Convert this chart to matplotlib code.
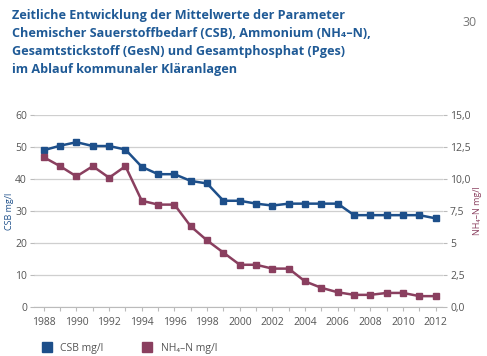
import matplotlib.pyplot as plt
from matplotlib.lines import Line2D

years = list(range(1988, 2013))
csb = [49.0, 50.4, 51.5, 50.3, 50.3, 49.2, 43.8, 41.5, 41.5, 39.4, 38.6, 33.2, 33.2,
       32.3, 31.7, 32.3, 32.3, 32.3, 32.3, 28.7, 28.7, 28.7, 28.7, 28.7, 27.7]
nh4 = [11.7, 11.0, 10.2, 11.0, 10.1, 11.0, 8.3, 8.0, 8.0, 6.3, 5.2, 4.25, 3.3,
       3.3, 3.0, 3.0, 2.0, 1.5, 1.15, 0.95, 0.95, 1.1, 1.1, 0.85, 0.85]
right_ticks = [0, 2.5, 5, 7.5, 10, 12.5, 15]
right_labels = ['0,0', '2,5', '5', '7,5', '10,0', '12,5', '15,0']

title = ("Zeitliche Entwicklung der Mittelwerte der Parameter\n"
         "Chemischer Sauerstoffbedarf (CSB), Ammonium (NH\u2084–N),\n"
         "Gesamtstickstoff (GesN) und Gesamtphosphat (Pges)\n"
         "im Ablauf kommunaler Kläranlagen")

blue = '#1d4f8a'
red = '#8a3f5f'
grey = '#555555'
plt.rcParams['font.family'] = ['Open Sans', 'DejaVu Sans']

fig = plt.figure(figsize=(4.87, 3.56), dpi=100)
ax = fig.add_axes([0.0698, 0.1376, 0.84, 0.5394])
ax2 = ax.twinx()

ax.plot(years, csb, color=blue, lw=1.8, marker='s', ms=4)
ax2.plot(years, nh4, color=red, lw=1.8, marker='s', ms=4)

ax.set_xlim(1987.4, 2012.45)
ax.set_ylim(0, 60)
ax2.set_ylim(0, 15)
ax.set_yticks(range(0, 61, 10))
ax2.set_yticks(right_ticks)
ax2.set_yticklabels(right_labels)
ax.set_xticks(years)
ax.set_xticklabels([str(y) if y % 2 == 0 else '' for y in years])

ax.grid(axis='y', color='#cfcfcf', lw=0.9)
ax.set_axisbelow(True)
for a in (ax, ax2):
    for s in ('top', 'left', 'right'):
        a.spines[s].set_visible(False)
    a.tick_params(colors='#bbbbbb', labelcolor=grey, labelsize=7.5, length=3,
                  width=0.8, pad=2)
ax.spines['bottom'].set_color('#bbbbbb')
ax2.spines['bottom'].set_visible(False)
ax.tick_params(axis='x', pad=4)

ax.set_ylabel('CSB mg/l', color=blue, fontsize=6.5, labelpad=1)
ax2.set_ylabel('NH\u2084–N mg/l', color=red, fontsize=6.5, labelpad=2)

fig.text(0.025, 0.975, title, color='#1f5a96', fontsize=9.1, fontweight='bold',
         va='top', ha='left', linespacing=1.5)
fig.text(0.95, 0.955, '30', color='#777777', fontsize=9, va='top', ha='left')

handles = [Line2D([], [], ls='', marker='s', ms=7, color=blue),
           Line2D([], [], ls='', marker='s', ms=7, color=red)]
fig.legend(handles, ['CSB mg/l', 'NH\u2084–N mg/l'], loc='lower left',
           bbox_to_anchor=(0.055, -0.02), ncol=2, frameon=False, fontsize=7.5,
           handletextpad=0.3, columnspacing=3.2, labelcolor=grey)

fig.savefig('out.png', dpi=100)
